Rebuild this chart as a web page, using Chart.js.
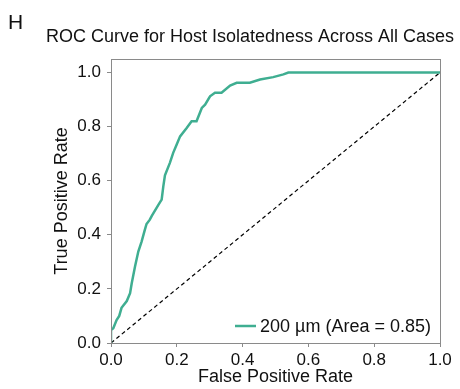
<!DOCTYPE html>
<html>
<head>
<meta charset="utf-8">
<script src="https://cdn.jsdelivr.net/npm/chart.js@4"></script>
<style>
  html, body { margin: 0; padding: 0; background: #ffffff; }
  #wrap { width: 460px; height: 389px; position: relative; }
</style>
</head>
<body>
<div id="wrap"><canvas id="myChart" width="460" height="389"></canvas></div>
<script>
// ROC curve
var fpr = [0, 0, 0.007, 0.017, 0.025, 0.032, 0.048, 0.058, 0.063, 0.073, 0.083, 0.093, 0.103, 0.108, 0.118, 0.124, 0.144, 0.154, 0.159, 0.164, 0.179, 0.189, 0.200, 0.210, 0.230, 0.245, 0.260, 0.276, 0.286, 0.301, 0.316, 0.336, 0.362, 0.382, 0.422, 0.453, 0.493, 0.524, 0.539, 0.58, 1.0];
var tpr = [0, 0.048, 0.055, 0.085, 0.10, 0.13, 0.155, 0.184, 0.221, 0.283, 0.338, 0.375, 0.419, 0.44, 0.456, 0.47, 0.511, 0.53, 0.579, 0.62, 0.666, 0.703, 0.735, 0.764, 0.795, 0.820, 0.820, 0.869, 0.881, 0.912, 0.925, 0.925, 0.952, 0.962, 0.962, 0.974, 0.983, 0.993, 1.0, 1.0, 1.0];
var chanceX = [0, 1];
var chanceY = [0, 1];
var xTicks = [0, 0.2, 0.4, 0.6, 0.8, 1.0];
var yTicks = [0, 0.2, 0.4, 0.6, 0.8, 1.0];

var panelLetter = 'H';
var chartTitle = 'ROC Curve for Host Isolatedness Across All Cases';
var legendLabel = '200 µm (Area = 0.85)';
var curveColor = '#3fae91';
var frameColor = '#8a8a8a';
var fontFamily = '"Liberation Sans", Arial, sans-serif';

function toPoints(xs, ys) {
    var pts = [];
    for (let i = 0; i < xs.length; i++) {
        pts.push({x: xs[i], y: ys[i]});
    }
    return pts;
}

// frame, title, panel letter and inside legend
const extras = {
    id: 'extras',
    afterDraw(chart) {
        const c = chart.ctx;
        const a = chart.chartArea;
        c.save();
        c.strokeStyle = frameColor;
        c.lineWidth = 1;
        c.strokeRect(Math.round(a.left) + 0.5, Math.round(a.top) + 0.5, Math.round(a.right - a.left), Math.round(a.bottom - a.top));

        c.fillStyle = '#111111';
        c.textBaseline = 'alphabetic';
        c.textAlign = 'left';
        c.font = '21px ' + fontFamily;
        c.fillText(panelLetter, 8, 29);
        c.textAlign = 'center';
        c.font = '18px ' + fontFamily;
        c.fillText(chartTitle, 250, 42);

        // legend
        c.strokeStyle = curveColor;
        c.lineWidth = 2.5;
        c.beginPath();
        c.moveTo(235, 326);
        c.lineTo(256, 326);
        c.stroke();
        c.textAlign = 'left';
        c.textBaseline = 'middle';
        c.font = '18px ' + fontFamily;
        c.fillText(legendLabel, 260, 327);
        c.restore();
    }
};

const ctx = document.getElementById('myChart');

let chart = new Chart(ctx, {
    type: 'line',
    data: {
        datasets: [{
            label: legendLabel,
            data: toPoints(fpr, tpr),
            borderColor: curveColor,
            borderWidth: 2.5,
            pointRadius: 0,
            tension: 0,
            fill: false
        }, {
            label: 'chance',
            data: toPoints(chanceX, chanceY),
            borderColor: '#000000',
            borderWidth: 1.2,
            borderDash: [4, 3],
            pointRadius: 0,
            fill: false
        }]
    },
    options: {
        responsive: false,
        animation: false,
        layout: { padding: { top: 59, right: 20, left: 0, bottom: 0 } },
        plugins: {
            legend: { display: false },
            tooltip: { enabled: false },
            title: { display: false }
        },
        scales: {
            x: {
                type: 'linear',
                min: 0,
                max: 1,
                afterBuildTicks: function(scale) {
                    scale.ticks = xTicks.map(v => ({value: v}));
                },
                afterFit: function(scale) { scale.height = 46; },
                ticks: {
                    color: '#111111',
                    font: { family: fontFamily, size: 17 },
                    padding: 3,
                    maxRotation: 0,
                    callback: v => v.toFixed(1)
                },
                grid: { drawOnChartArea: false, drawTicks: true, tickLength: 4, color: frameColor },
                border: { display: false },
                title: {
                    display: true,
                    text: 'False Positive Rate',
                    color: '#111111',
                    font: { family: fontFamily, size: 18, lineHeight: 1.2 },
                    padding: { top: 0, bottom: 1 }
                }
            },
            y: {
                type: 'linear',
                min: 0,
                max: 1.05,
                afterBuildTicks: function(scale) {
                    scale.ticks = yTicks.map(v => ({value: v}));
                },
                afterFit: function(scale) { scale.width = 111; },
                ticks: {
                    color: '#111111',
                    font: { family: fontFamily, size: 17 },
                    padding: 6,
                    callback: v => v.toFixed(1)
                },
                grid: { drawOnChartArea: false, drawTicks: true, tickLength: 4, color: frameColor },
                border: { display: false },
                title: {
                    display: true,
                    text: 'True Positive Rate',
                    color: '#111111',
                    font: { family: fontFamily, size: 18, lineHeight: 1.2 },
                    padding: { top: 51, bottom: 0 }
                }
            }
        }
    },
    plugins: [extras]
});
</script>
</body>
</html>
